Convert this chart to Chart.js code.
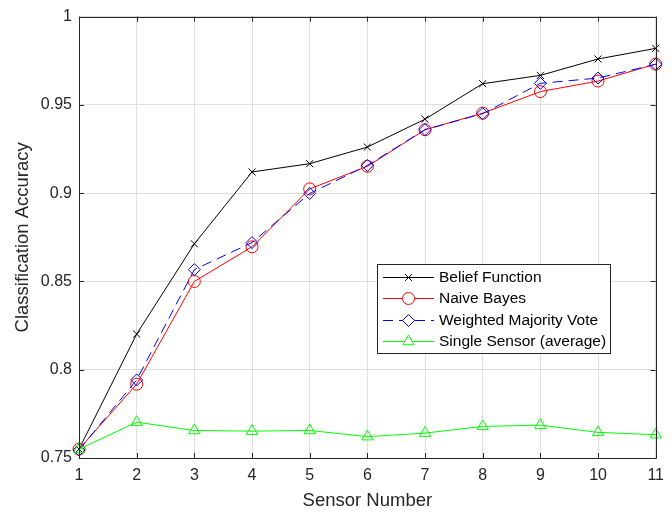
<!DOCTYPE html>
<html>
<head>
<meta charset="utf-8">
<script src="https://cdn.jsdelivr.net/npm/chart.js@4/dist/chart.umd.min.js"></script>
<style>
  body { margin: 0; background: #fff; }
  canvas { display: block; }
</style>
</head>
<body>
<canvas id="chart" width="672" height="513"></canvas>
<script>
const sensorNumbers = [1, 2, 3, 4, 5, 6, 7, 8, 9, 10, 11];
const yTicks = [0.75, 0.8, 0.85, 0.9, 0.95, 1];

const beliefFunction = [0.755, 0.8202, 0.8713, 0.912, 0.9167, 0.9261, 0.9419, 0.962, 0.9667, 0.976, 0.982];
const naiveBayes = [0.755, 0.7918, 0.850, 0.8696, 0.9024, 0.9152, 0.9359, 0.9453, 0.9575, 0.9635, 0.9731];
const weightedMajority = [0.7545, 0.7942, 0.8567, 0.8720, 0.8998, 0.9157, 0.9360, 0.9450, 0.9622, 0.9652, 0.9730];
const singleSensor = [0.755, 0.7703, 0.7656, 0.7652, 0.7656, 0.7621, 0.7641, 0.7679, 0.7686, 0.7645, 0.7632];

const FONT = "'Liberation Sans', Arial, Helvetica, sans-serif";
const AXIS_COLOR = '#262626';
const GRID_COLOR = '#dfdfdf';

function series(label, data, color, style, radius, dash, order) {
    return {
        label: label,
        data: data,
        borderColor: color,
        borderWidth: 1,
        borderDash: dash,
        pointStyle: style,
        pointRadius: radius,
        pointBorderColor: color,
        pointBackgroundColor: 'rgba(0,0,0,0)',
        pointBorderWidth: 1,
        tension: 0,
        clip: false,
        order: order
    };
}

// box around the axes, with MATLAB-like inward ticks on all four sides
const axesBox = {
    id: 'axesBox',
    afterDraw(chart) {
        const ctx = chart.ctx;
        const a = chart.chartArea;
        const xs = chart.scales.x, ys = chart.scales.y;
        const len = 5;
        ctx.save();
        ctx.strokeStyle = AXIS_COLOR;
        ctx.lineWidth = 1;
        ctx.beginPath();
        ctx.rect(Math.round(a.left) + 0.5, Math.round(a.top) + 0.5,
                 Math.round(a.right - a.left), Math.round(a.bottom - a.top));
        xs.ticks.forEach((t, i) => {
            const x = Math.round(xs.getPixelForTick(i)) + 0.5;
            ctx.moveTo(x, a.bottom); ctx.lineTo(x, a.bottom - len);
            ctx.moveTo(x, a.top); ctx.lineTo(x, a.top + len);
        });
        ys.ticks.forEach((t, i) => {
            const y = Math.round(ys.getPixelForTick(i)) + 0.5;
            ctx.moveTo(a.left, y); ctx.lineTo(a.left + len, y);
            ctx.moveTo(a.right, y); ctx.lineTo(a.right - len, y);
        });
        ctx.stroke();
        ctx.restore();
    }
};

// legend box drawn inside the plot area
const insideLegend = {
    id: 'insideLegend',
    afterDraw(chart) {
        const ctx = chart.ctx;
        const box = { left: 377.5, top: 264.5, width: 233, height: 89 };
        const rowTop = 277, rowStep = 21.3;
        const lineX0 = 383, lineX1 = 434, textX = 439;
        ctx.save();
        ctx.fillStyle = '#fff';
        ctx.fillRect(box.left, box.top, box.width, box.height);
        ctx.strokeStyle = AXIS_COLOR;
        ctx.lineWidth = 1;
        ctx.strokeRect(box.left, box.top, box.width, box.height);
        chart.data.datasets.forEach((ds, i) => {
            const y = Math.round(rowTop + i * rowStep) + 0.5;
            ctx.strokeStyle = ds.borderColor;
            ctx.lineWidth = 1;
            ctx.setLineDash(ds.borderDash || []);
            ctx.beginPath();
            ctx.moveTo(lineX0, y);
            ctx.lineTo(lineX1, y);
            ctx.stroke();
            ctx.setLineDash([]);
            // marker: white behind it so the line does not run through
            ctx.fillStyle = '#fff';
            ctx.strokeStyle = ds.borderColor;
            Chart.helpers.drawPoint(ctx, {
                pointStyle: ds.pointStyle,
                radius: ds.pointRadius,
                rotation: 0,
                borderWidth: 1
            }, (lineX0 + lineX1) / 2, y);
            ctx.fillStyle = '#000';
            ctx.font = '15.5px ' + FONT;
            ctx.textBaseline = 'middle';
            ctx.fillText(ds.label, textX, y + 0.5);
        });
        ctx.restore();
    }
};

new Chart(document.getElementById('chart'), {
    type: 'line',
    data: {
        labels: sensorNumbers,
        datasets: [
            series('Belief Function', beliefFunction, '#000000', 'crossRot', 5, [], 4),
            series('Naive Bayes', naiveBayes, '#ff0000', 'circle', 6, [], 3),
            series('Weighted Majority Vote', weightedMajority, '#0000ff', 'rectRot', 6, [10, 6], 2),
            series('Single Sensor (average)', singleSensor, '#00ff00', 'triangle', 6.5, [], 1)
        ]
    },
    options: {
        responsive: false,
        animation: false,
        devicePixelRatio: 1,
        layout: { padding: { left: 0, top: 15, right: 8, bottom: 0 } },
        plugins: {
            legend: { display: false },
            tooltip: { enabled: false }
        },
        scales: {
            x: {
                grid: { color: GRID_COLOR, drawTicks: false },
                border: { display: false },
                ticks: {
                    color: AXIS_COLOR,
                    font: { family: FONT, size: 16 },
                    padding: 8,
                    maxRotation: 0,
                    autoSkip: false
                },
                title: {
                    display: true,
                    text: 'Sensor Number',
                    color: AXIS_COLOR,
                    font: { family: FONT, size: 18.5 },
                    padding: { top: 0, bottom: 1 }
                },
                afterFit(scale) { scale.height = 55; }
            },
            y: {
                min: yTicks[0],
                max: yTicks[yTicks.length - 1],
                afterBuildTicks(scale) {
                    scale.ticks = yTicks.map(v => ({ value: v }));
                },
                grid: { color: GRID_COLOR, drawTicks: false },
                border: { display: false },
                ticks: {
                    color: AXIS_COLOR,
                    font: { family: FONT, size: 16 },
                    padding: 7,
                    callback: v => String(Number(v.toFixed(2)))
                },
                title: {
                    display: true,
                    text: 'Classification Accuracy',
                    color: AXIS_COLOR,
                    font: { family: FONT, size: 18.5 },
                    padding: { top: 12, bottom: 0 }
                },
                afterFit(scale) { scale.width = 79; }
            }
        }
    },
    plugins: [axesBox, insideLegend]
});
</script>
</body>
</html>
